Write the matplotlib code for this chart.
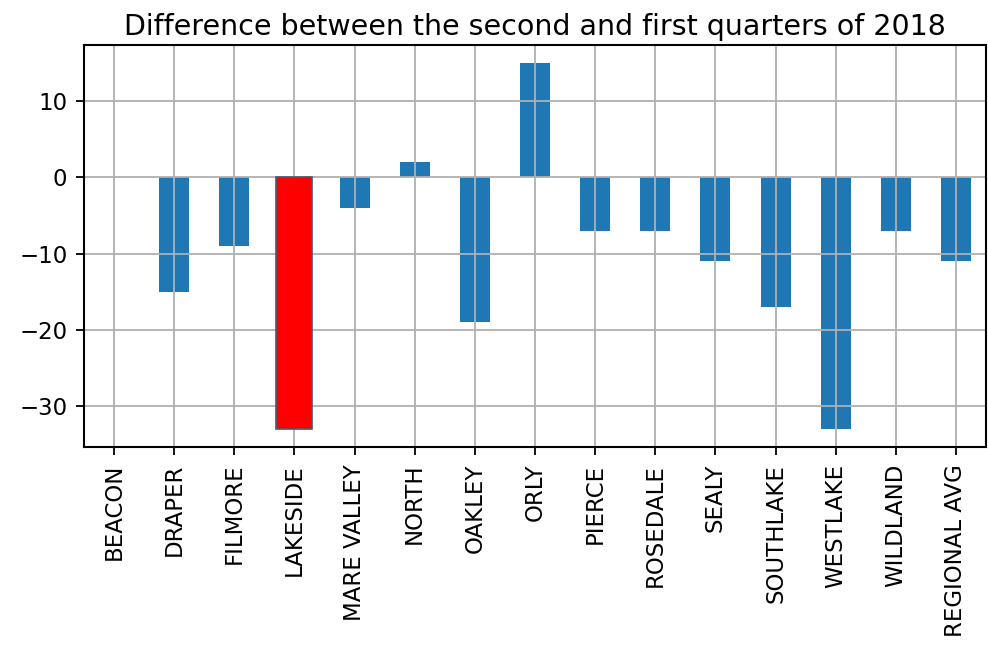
import matplotlib
matplotlib.use('Agg')
import matplotlib.pyplot as plt

sites = ['BEACON', 'DRAPER', 'FILMORE', 'LAKESIDE', 'MARE VALLEY', 'NORTH', 'OAKLEY',
         'ORLY', 'PIERCE', 'ROSEDALE', 'SEALY', 'SOUTHLAKE', 'WESTLAKE', 'WILDLAND',
         'REGIONAL AVG']
diff = [0, -15, -9, -33, -4, 2, -19, 15, -7, -7, -11, -17, -33, -7, -11]
highlight = 'LAKESIDE'

fig = plt.figure(figsize=(9.88, 6.48), dpi=100)
ax = fig.add_axes([0.085, 0.31, 0.913, 0.621])

x = list(range(len(sites)))
ax.bar(x, diff, width=0.5, color='#1f77b4')
hi = sites.index(highlight)
ax.bar(hi, diff[hi], width=0.6, color='red', edgecolor='#4d5a66', linewidth=1.2, zorder=3)

ax.set_xlim(-0.5, len(sites) - 0.5)
ax.set_xticks(x)
ax.set_xticklabels(sites, rotation=90, fontsize=16.5)
ax.tick_params(axis='y', labelsize=16.5)
ax.tick_params(length=6, width=1.3, pad=6)
ax.grid(True, color='#b0b0b0', linewidth=1.3)
for s in ax.spines.values():
    s.set_linewidth(1.5)
ax.set_title('Difference between the second and first quarters of 2018', fontsize=20.5, pad=7)

fig.savefig('out.png', dpi=100)
